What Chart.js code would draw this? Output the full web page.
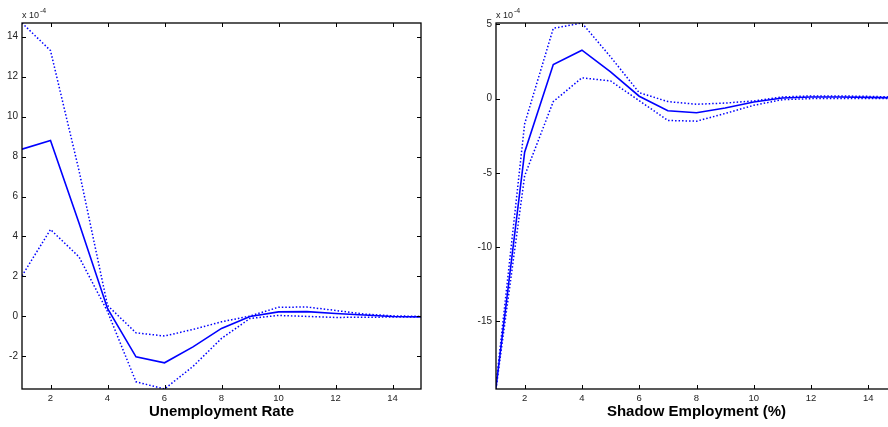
<!DOCTYPE html>
<html>
<head>
<meta charset="utf-8">
<title>Impulse responses</title>
<script src="https://cdn.jsdelivr.net/npm/chart.js@4.4.0/dist/chart.umd.min.js"></script>
<style>
  html, body { margin: 0; padding: 0; background: #fff; overflow: hidden; }
  #wrap { position: relative; width: 888px; height: 427px; overflow: hidden; }
  canvas { position: absolute; top: 0; }
  #left { left: 0; }
  #right { left: 444px; }
</style>
</head>
<body>
<div id="wrap">
  <canvas id="left" width="444" height="427"></canvas>
  <canvas id="right" width="460" height="427"></canvas>
</div>
<script>
// Horizons and responses (all responses in units of 1e-4)
var horizons = [1, 2, 3, 4, 5, 6, 7, 8, 9, 10, 11, 12, 13, 14, 15];

var unempMid   = [8.37, 8.8, 4.67, 0.4, -2.02, -2.32, -1.52, -0.6, 0.0, 0.23, 0.24, 0.15, 0.07, 0.0, -0.02];
var unempUpper = [14.68, 13.3, 7.3, 0.55, -0.82, -0.98, -0.65, -0.27, 0.02, 0.46, 0.47, 0.3, 0.12, 0.03, 0.0];
var unempLower = [2.03, 4.35, 2.98, 0.25, -3.27, -3.63, -2.5, -1.1, -0.1, 0.05, 0.0, -0.05, -0.04, -0.03, -0.02];

var shadowMid   = [-19.45, -3.61, 2.3, 3.26, 1.8, 0.16, -0.82, -0.95, -0.63, -0.23, 0.04, 0.11, 0.11, 0.08, 0.05];
var shadowUpper = [-19.3, -1.7, 4.73, 5.09, 2.81, 0.4, -0.2, -0.38, -0.3, -0.16, 0.11, 0.18, 0.18, 0.15, 0.1];
var shadowLower = [-19.55, -5.2, -0.2, 1.4, 1.19, -0.14, -1.47, -1.52, -1.0, -0.45, -0.07, 0.0, 0.0, 0.0, 0.0];

// Tick labels
var xTicks = [2, 4, 6, 8, 10, 12, 14];
var unempTicks = [-2, 0, 2, 4, 6, 8, 10, 12, 14];
var shadowTicks = [-15, -10, -5, 0, 5];

var FONT = "'Liberation Sans', Arial, Helvetica, sans-serif";
var BLUE = '#0000ff';

function toPoints(vals) {
	return horizons.map(function(h, i) { return {x: h, y: vals[i]}; });
}

// MATLAB style frame with inward ticks and the exponent label
var boxPlugin = {
	id: 'matlabBox',
	afterDraw: function(chart) {
		var ctx = chart.ctx;
		var a = chart.chartArea;
		var xs = chart.scales.x, ys = chart.scales.y;
		var len = 4;
		ctx.save();
		ctx.strokeStyle = '#000';
		ctx.lineWidth = 1.3;
		ctx.strokeRect(a.left, a.top, a.right - a.left, a.bottom - a.top);

		ctx.beginPath();
		xs.ticks.forEach(function(t) {
			var px = Math.round(xs.getPixelForValue(t.value)) + 0.5;
			ctx.moveTo(px, a.bottom); ctx.lineTo(px, a.bottom - len);
			ctx.moveTo(px, a.top); ctx.lineTo(px, a.top + len);
		});
		ys.ticks.forEach(function(t) {
			var py = Math.round(ys.getPixelForValue(t.value)) + 0.5;
			ctx.moveTo(a.left, py); ctx.lineTo(a.left + len, py);
			ctx.moveTo(a.right, py); ctx.lineTo(a.right - len, py);
		});
		ctx.lineWidth = 1;
		ctx.stroke();

		// "x 10^-4"
		ctx.fillStyle = '#222';
		ctx.textBaseline = 'alphabetic';
		ctx.textAlign = 'left';
		ctx.font = '9px ' + FONT;
		ctx.fillText('x 10', a.left, a.top - 5.5);
		var w = ctx.measureText('x 10').width;
		ctx.font = '7px ' + FONT;
		ctx.fillText('-4', a.left + w + 1, a.top - 10);
		ctx.restore();
	}
};

function makeChart(id, mid, upper, lower, yTicks, title, yAxisWidth, padRight) {
	var dotted = {
		borderColor: BLUE,
		borderWidth: 1.5,
		borderDash: [1.5, 2],
		pointRadius: 0,
		tension: 0,
		fill: false
	};
	return new Chart(document.getElementById(id), {
		type: 'line',
		data: {
			datasets: [
				Object.assign({label: 'upper', data: toPoints(upper)}, dotted),
				Object.assign({label: 'lower', data: toPoints(lower)}, dotted),
				{
					label: 'response',
					data: toPoints(mid),
					borderColor: BLUE,
					borderWidth: 1.6,
					pointRadius: 0,
					tension: 0,
					fill: false
				}
			]
		},
		options: {
			responsive: false,
			animation: false,
			events: [],
			layout: {padding: {top: 23, right: padRight, left: 0, bottom: 0}},
			plugins: {
				legend: {display: false},
				tooltip: {enabled: false}
			},
			scales: {
				x: {
					type: 'linear',
					min: horizons[0],
					max: horizons[horizons.length - 1],
					border: {display: false},
					grid: {display: false, drawTicks: false},
					afterBuildTicks: function(scale) {
						scale.ticks = xTicks.map(function(v) { return {value: v}; });
					},
					afterFit: function(scale) { scale.height = 38; },
					ticks: {
						padding: 4,
						maxRotation: 0,
						autoSkip: false,
						color: '#222',
						font: {family: FONT, size: 9.5}
					},
					title: {
						display: true,
						text: title,
						color: '#000',
						padding: {top: 0, bottom: 6},
						font: {family: FONT, size: 15, weight: 'bold'}
					}
				},
				y: {
					type: 'linear',
					min: Math.min.apply(null, lower),
					max: Math.max.apply(null, upper),
					border: {display: false},
					grid: {display: false, drawTicks: false},
					afterBuildTicks: function(scale) {
						scale.ticks = yTicks.map(function(v) { return {value: v}; });
					},
					afterFit: function(scale) { scale.width = yAxisWidth; },
					ticks: {
						padding: 4,
						autoSkip: false,
						color: '#222',
						font: {family: FONT, size: 10}
					}
				}
			}
		},
		plugins: [boxPlugin]
	});
}

makeChart('left', unempMid, unempUpper, unempLower, unempTicks, 'Unemployment Rate', 22, 23);
makeChart('right', shadowMid, shadowUpper, shadowLower, shadowTicks, 'Shadow Employment (%)', 52, 7);
</script>
</body>
</html>
